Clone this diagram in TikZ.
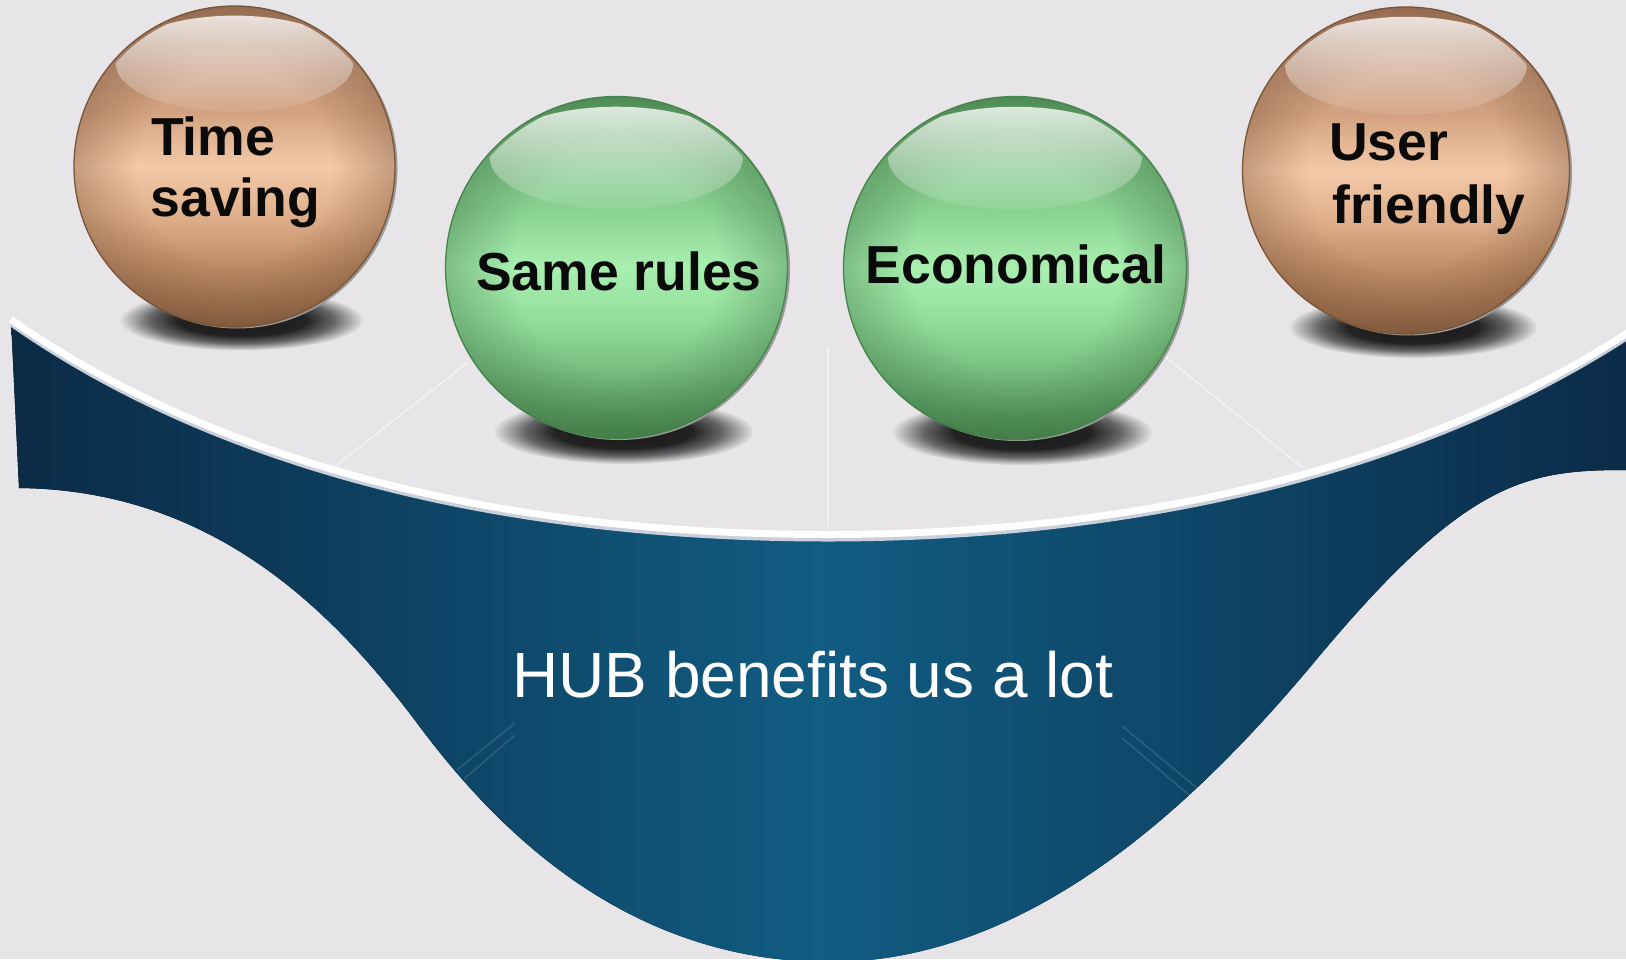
\documentclass[tikz,border=0pt]{standalone}
\usepackage{fontspec}
\setmainfont{Liberation Sans}
\usetikzlibrary{fadings}
\definecolor{bgc}{HTML}{E7E5E8}
\definecolor{bowlD}{HTML}{0B2A45}
\definecolor{bowlD2}{HTML}{0B2B47}
\definecolor{bowlL}{HTML}{115C82}
\definecolor{rimsh}{HTML}{C9D0DA}
\definecolor{txt}{HTML}{0A0A0A}
\definecolor{shadowc}{HTML}{151515}
% peach stops (bottom -> top)
\definecolor{pk0}{HTML}{8A6244}
\definecolor{pk1}{HTML}{A07452}
\definecolor{pk2}{HTML}{C08E68}
\definecolor{pk3}{HTML}{E0B08C}
\definecolor{pk4}{HTML}{F3C9A7}
\definecolor{pk5}{HTML}{D3A381}
\definecolor{pk6}{HTML}{C4967A}
\definecolor{pk7}{HTML}{A87E62}
\definecolor{pkline}{HTML}{7D5738}
\definecolor{pkedge}{HTML}{6E4A30}
% green stops (bottom -> top)
\definecolor{gr0}{HTML}{4A8850}
\definecolor{gr1}{HTML}{5A9A60}
\definecolor{gr2}{HTML}{78BE80}
\definecolor{gr3}{HTML}{94DE9C}
\definecolor{gr4}{HTML}{A8EFB0}
\definecolor{gr5}{HTML}{8AD292}
\definecolor{gr6}{HTML}{7CC083}
\definecolor{gr7}{HTML}{5E9E64}
\definecolor{grline}{HTML}{4A8A50}
\definecolor{gredge}{HTML}{35683B}
\pgfdeclareverticalshading{peachshade}{100bp}{color(0bp)=(pk0); color(25bp)=(pk0); color(28.5bp)=(pk1); color(35bp)=(pk2); color(42.5bp)=(pk3); color(50bp)=(pk4); color(58.5bp)=(pk5); color(67.5bp)=(pk6); color(75bp)=(pk7); color(100bp)=(pk7)}
\pgfdeclareverticalshading{greenshade}{100bp}{color(0bp)=(gr0); color(25bp)=(gr0); color(28.5bp)=(gr1); color(35bp)=(gr2); color(42.5bp)=(gr3); color(50bp)=(gr4); color(58.5bp)=(gr5); color(67.5bp)=(gr6); color(75bp)=(gr7); color(100bp)=(gr7)}
\pgfdeclareradialshading{rimshd}{\pgfpoint{0bp}{0bp}}{color(0bp)=(black); color(15bp)=(black); color(25bp)=(black!65); color(50bp)=(black!65)}
\pgfdeclarefading{rimfade}{\pgfuseshading{rimshd}}
\pgfdeclareradialshading{shdshd}{\pgfpoint{0bp}{0bp}}{color(0bp)=(black!3); color(13bp)=(black!6); color(19bp)=(black!40); color(25bp)=(black); color(50bp)=(black)}
\pgfdeclarefading{shadowfade}{\pgfuseshading{shdshd}}
\tikzfading[name=glossfade, top color=transparent!20, bottom color=transparent!94]
\newcommand\drawsphere[7]{%
  \fill[shadowc, path fading=shadowfade] ({#2+7},{#3+#4-7}) ellipse ({0.76*#4} and {0.19*#4});
  \fill[black!40] ({#2+2.5},{#3+1.5}) circle ({#4});
  \node[circle, inner sep=0pt, outer sep=0pt, minimum size={2*#4bp}, shade, shading=#5, draw=#6, line width=1.3bp] (#1) at (#2,#3) {};
  \fill[#7, path fading=rimfade] (#1.center) circle ({#4});
  \begin{scope}
    \clip (#1.center) circle ({#4-3});
    \fill[white, path fading=glossfade] ({#2},{#3-0.64*#4}) ellipse ({0.74*#4} and {0.30*#4});
  \end{scope}
}
\begin{document}
\begin{tikzpicture}[x=1bp,y=-1bp,
  lab/.style={font=\bfseries\fontsize{53.5bp}{62bp}\selectfont, text=txt, inner sep=0pt, anchor=base west},
  hub/.style={font=\fontsize{64bp}{76bp}\selectfont, text=white, inner sep=0pt, anchor=base west},
  faint/.style={draw=white, line width=1.6bp, opacity=0.5},
  fainter/.style={draw=white, line width=1.6bp, opacity=0.14},
  faintb/.style={draw=white, line width=1.4bp, opacity=0.13}]
\useasboundingbox (0,0) rectangle (1626,959);
\fill[bgc] (0,0) rectangle (1626,959);
\begin{scope}
\clip (0,0) rectangle (1626,959);
% very faint lines on the grey ground
\draw[fainter] (7,720) -- (247,650);
\draw[fainter] (7,733) -- (247,662);
\draw[fainter] (333,880) -- (420,807);
\draw[fainter] (1417,650) -- (1626,713);
\draw[fainter] (1417,662) -- (1626,725);
\draw[fainter] (1220,817) -- (1303,887);
% the bowl
\fill[left color=bowlD, right color=bowlD2, middle color=bowlL]
  (11,319.5) .. controls (162,425.5) and (420,534.5) .. (828,534.5)
  .. controls (1100,534.5) and (1400,482) .. (1632,330)
  -- (1632,470) -- (1626,470) .. controls (1526,470) and (1466,480) .. (1316,660)
  .. controls (1196,804) and (1030,962) .. (830,962)
  .. controls (630,962) and (500,834) .. (420,727)
  .. controls (340,620) and (220,490) .. (19,488) -- cycle;
% faint lines inside the bowl
\draw[faintb] (457,770) -- (515,723);
\draw[faintb] (464,779) -- (515,735);
\draw[faintb] (1122,726) -- (1197,788);
\draw[faintb] (1122,738) -- (1190,796);
% rim
\draw[rimsh, line width=4bp, yshift=-5bp] (11,319.5) .. controls (162,425.5) and (420,534.5) .. (828,534.5)
  .. controls (1100,534.5) and (1400,482) .. (1632,330);
\draw[white, line width=7bp] (11,319.5) .. controls (162,425.5) and (420,534.5) .. (828,534.5)
  .. controls (1100,534.5) and (1400,482) .. (1632,330);
% faint lines between rim and spheres
\draw[faint] (334,467) -- (467,363);
\draw[faint] (828,347) -- (828,527);
\draw[faint] (1163,355) -- (1303,468);
\end{scope}
% spheres
\drawsphere{s1}{234.5}{166.5}{160.5}{peachshade}{pkline}{pkedge}
\drawsphere{s2}{616.5}{267.5}{171}{greenshade}{grline}{gredge}
\drawsphere{s3}{1015}{268}{171.5}{greenshade}{grline}{gredge}
\drawsphere{s4}{1406}{170.5}{163.5}{peachshade}{pkline}{pkedge}
% labels
\node[lab] (t1a) at (151,155) {Time};
\node[lab] (t1b) at (150.5,216.7) {saving};
\node[lab] (t2) at (476,290) {Same rules};
\node[lab] (t3) at (865.5,283.3) {Economical};
\node[lab] (t4a) at (1329,160) {User};
\node[lab] (t4b) at (1332,223) {friendly};
\node[hub] (hub) at (512,697) {HUB benefits us a lot};
\end{tikzpicture}
\end{document}
